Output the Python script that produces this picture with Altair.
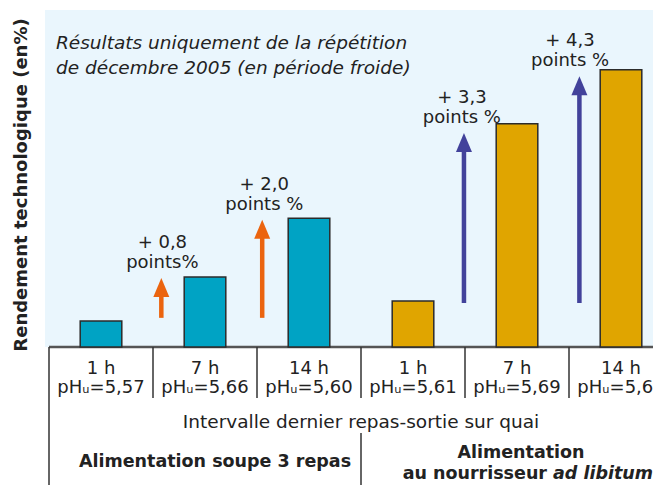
import altair as alt
import pandas as pd

# ---------------- data ----------------
hours = ["1 h", "7 h", "14 h", "1 h", "7 h", "14 h"]
ph_u = ["5,57", "5,66", "5,60", "5,61", "5,69", "5,66"]
feeding = ["soupe", "soupe", "soupe", "nourrisseur", "nourrisseur", "nourrisseur"]
# yield, in points above the (unlabelled) axis origin
rendement = [0.49, 1.32, 2.43, 0.87, 4.21, 5.23]

arrow_pos = [0.58, 1.55, 3.49, 4.60]
arrow_from = [0.55, 0.55, 0.83, 0.83]
arrow_to = [1.30, 2.40, 4.04, 5.11]
arrow_feeding = ["soupe", "soupe", "nourrisseur", "nourrisseur"]
gain_line1 = ["+ 0,8", "+ 2,0", "+ 3,3", "+ 4,3"]
gain_line2 = ["points%", "points %", "points %", "points %"]
gain_pos = [0.59, 1.57, 3.47, 4.51]

# ---------------- style / layout ----------------
FONT = "DejaVu Sans"
TXT = "#222222"
BAR_FILL = {"soupe": "#00A3C4", "nourrisseur": "#E0A500"}
ARROW_COL = {"soupe": "#EB640F", "nourrisseur": "#42429B"}
BG = "#EAF6FD"
W, H = 608, 475          # view size (px)
BASE = 337               # baseline position from top of view (px)
PX_PER_PT = 53.0
BAND = 104.0
X0 = -0.5 - 4 / BAND

xs = alt.Scale(domain=[X0, X0 + W / BAND], nice=False, zero=False)
ys = alt.Scale(domain=[-(H - BASE) / PX_PER_PT, BASE / PX_PER_PT], nice=False, zero=False)

n = len(hours)
bars = pd.DataFrame({
    "pos": list(range(n)),
    "hours": hours,
    "ph": ["pHᵤ=" + p for p in ph_u],
    "val": rendement,
    "fill": [BAR_FILL[f] for f in feeding],
})
bars["x0"] = bars["pos"] - 0.2
bars["x1"] = bars["pos"] + 0.2
bars["zero"] = 0.0

arrows = pd.DataFrame({
    "pos": arrow_pos, "from": arrow_from, "to": arrow_to,
    "col": [ARROW_COL[f] for f in arrow_feeding],
    "l1": gain_line1, "l2": gain_line2, "lpos": gain_pos,
})
arrows["shaft_top"] = arrows["to"] - 0.3

edges = pd.DataFrame({"edge": [i + 0.5 for i in range(n - 1)]})
axis_df = pd.DataFrame({"x": [-0.5], "zero": [0.0]})

X = lambda f: alt.X(f, scale=xs, axis=None)
Y = lambda f: alt.Y(f, scale=ys, axis=None)

background = alt.Chart(pd.DataFrame({"a": [0]})).mark_rect(color=BG).encode(
    x=alt.value(0), x2=alt.value(W), y=alt.value(0), y2=alt.value(BASE)
)

bar_layer = alt.Chart(bars).mark_rect(stroke="#2b2b2b", strokeWidth=1.5).encode(
    x=X("x0:Q"), x2="x1:Q", y=Y("val:Q"), y2="zero:Q",
    fill=alt.Fill("fill:N", scale=None),
)

axis_line = alt.Chart(axis_df).mark_rule(color="#555555", strokeWidth=2.5).encode(
    x=X("x:Q"), x2=alt.value(W), y=Y("zero:Q")
)

shafts = alt.Chart(arrows).mark_rule(strokeWidth=4.5).encode(
    x=X("pos:Q"), y=Y("from:Q"), y2="shaft_top:Q",
    color=alt.Color("col:N", scale=None),
)
heads = alt.Chart(arrows).mark_point(
    shape="M0,0L-0.8,1.9L0.8,1.9Z", size=400, filled=True, opacity=1, strokeWidth=0
).encode(x=X("pos:Q"), y=Y("to:Q"), color=alt.Color("col:N", scale=None))

gain1 = alt.Chart(arrows).mark_text(
    font=FONT, fontSize=18, color=TXT, align="center", baseline="alphabetic", dy=-30
).encode(x=X("lpos:Q"), y=Y("to:Q"), text="l1:N")
gain2 = alt.Chart(arrows).mark_text(
    font=FONT, fontSize=18, color=TXT, align="center", baseline="alphabetic", dy=-10
).encode(x=X("lpos:Q"), y=Y("to:Q"), text="l2:N")

hour_lab = alt.Chart(bars).mark_text(
    font=FONT, fontSize=18, color=TXT, align="center", baseline="alphabetic"
).encode(x=X("pos:Q"), y=alt.value(BASE + 27), text="hours:N")
ph_lab = alt.Chart(bars).mark_text(
    font=FONT, fontSize=18, color=TXT, align="center", baseline="alphabetic"
).encode(x=X("pos:Q"), y=alt.value(BASE + 46), text="ph:N")

dividers = alt.Chart(edges).mark_rule(color="#333333", strokeWidth=1.5).encode(
    x=X("edge:Q"), y=alt.value(BASE), y2=alt.value(BASE + 51)
)
left_line = alt.Chart(axis_df).mark_rule(color="#333333", strokeWidth=1.5).encode(
    x=X("x:Q"), y=alt.value(BASE), y2=alt.value(H)
)
mid_df = pd.DataFrame({"x": [(n - 1) / 2]})
mid_line = alt.Chart(mid_df).mark_rule(color="#333333", strokeWidth=1.5).encode(
    x=X("x:Q"), y=alt.value(BASE + 86), y2=alt.value(H)
)

def txt(s, x, y, **kw):
    base = dict(font=FONT, fontSize=18, color=TXT, baseline="alphabetic", align="center")
    base.update(kw)
    return alt.Chart(pd.DataFrame({"t": [s]})).mark_text(**base).encode(
        x=alt.value(x), y=alt.value(y), text="t:N"
    )

interval = alt.Chart(pd.DataFrame({"t": ["Intervalle dernier repas-sortie sur quai"], "x": [(n - 1) / 2]})).mark_text(
    font=FONT, fontSize=18.5, color=TXT, align="center", baseline="alphabetic"
).encode(x=X("x:Q"), y=alt.value(BASE + 81), text="t:N")

layers = [
    background, axis_line, bar_layer, shafts, heads, gain1, gain2,
    hour_lab, ph_lab, dividers, left_line, mid_line, interval,
    txt("Résultats uniquement de la répétition", 11, 39, align="left", fontStyle="italic", fontSize=18.5),
    txt("de décembre 2005 (en période froide)", 11, 64, align="left", fontStyle="italic", fontSize=18.5),
    txt("Alimentation soupe 3 repas", 170, 457, fontWeight="bold", fontSize=17.5),
    txt("Alimentation", 476, 448, fontWeight="bold", fontSize=17.5),
    txt("au nourrisseur", 502, 469, fontWeight="bold", fontSize=17.5, align="right"),
    txt("ad libitum", 508, 469, fontWeight="bold", fontStyle="italic", fontSize=17.5, align="left"),
    txt("Rendement technologique (en%)", -23, 175, fontWeight="bold", fontSize=18, angle=270, baseline="middle"),
]

chart = alt.layer(*layers).properties(
    width=W, height=H,
    autosize=alt.AutoSizeParams(type="none"),
    padding={"left": 37, "top": 2, "right": 0, "bottom": 0},
    background="white",
).configure_view(stroke=None)

chart.save("out.html", embed_options={"renderer": "svg", "actions": False})
